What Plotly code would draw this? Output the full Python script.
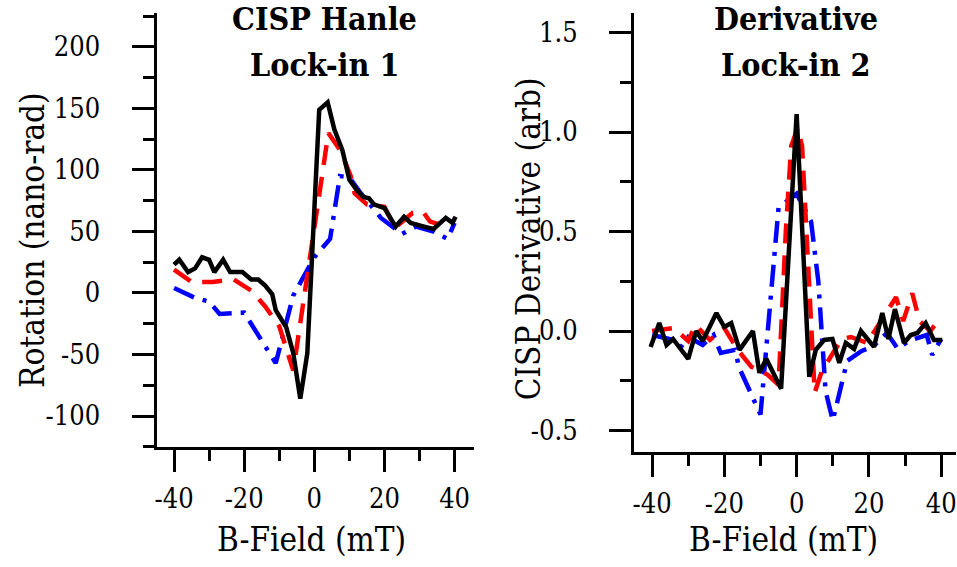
import plotly.graph_objects as go

W, H = 957, 567

# ---- CISP Hanle (lock-in 1): rotation in nano-rad vs B-field in mT ----
hanle_black_x = [-40, -38.5, -36, -34, -32, -30, -28.5, -26, -24, -20.5, -18, -16, -14, -12, -11,
                 -9.5, -8, -6, -4, -2, 1.4, 3.8, 5.7, 8, 10, 12, 14, 15.6, 17, 20, 21.3, 23.2,
                 25.6, 27.5, 31.3, 34, 37.5, 39.4, 40.3]
hanle_black_y = [23, 27, 17, 20, 29, 27, 17, 27, 17, 17, 11, 11, 6, -1, -14,
                 -21, -28, -49, -86, -49, 149, 155, 133, 116, 92, 84, 78, 77, 72, 69, 63, 54,
                 62, 57, 54, 52, 61, 57, 62]

hanle_red_x = [-40, -35, -29, -23, -18, -14, -10, -8, -6, 4, 7.6, 10.4, 11.5, 15, 20, 23, 28, 31, 33, 38]
hanle_red_y = [19, 9, 9, 11, 2, -11, -27, -44, -63, 130, 115, 95, 81, 72, 70, 53, 65, 66, 58, 54]

hanle_blue_x = [-40, -34, -30, -27, -20, -11, -6, 0, 4.5, 7.3, 10, 13, 19, 22, 25, 29, 34, 38, 40]
hanle_blue_y = [4, -4, -7, -17, -16, -57, -2, 29, 44, 95, 94, 82, 61, 54, 48, 54, 50, 44, 57]

# ---- Derivative (lock-in 2): CISP derivative in arb. units ----
deriv_black_x = [-40.4, -38, -36, -34.2, -30, -27.8, -26, -22.2, -20, -18.1, -15.8, -12.1, -10.3,
                 -8.4, -4.3, 0, 3.5, 5.3, 7.6, 9.9, 11.8, 13.6, 15.9, 17.8, 21.4, 23.7, 25.4,
                 27.2, 29.7, 31.6, 33.4, 35.7, 38, 40.3]
deriv_black_y = [-0.08, 0.04, -0.07, -0.04, -0.14, 0.0, -0.05, 0.09, 0.02, 0.04, -0.095, 0.0, -0.21,
                 -0.14, -0.29, 1.09, -0.23, -0.095, -0.045, -0.04, -0.16, -0.06, -0.09, 0.0, -0.08,
                 0.09, -0.04, 0.11, -0.06, -0.02, -0.01, 0.04, -0.045, -0.045]

deriv_red_x = [-40, -34, -30, -28, -24, -20, -16.5, -12.5, -8, -5, -3, -1.5, 0.3, 1.5, 5, 7,
               12.5, 15, 19.5, 23.5, 27.5, 29.5, 32, 34, 37, 40]
deriv_red_y = [0.0, 0.015, -0.05, 0.03, -0.045, 0.015, -0.09, -0.18, -0.22, -0.27, 0.5, 0.93,
               1.02, 0.93, -0.31, -0.2, -0.04, -0.03, -0.06, 0.055, 0.17, 0.05, 0.19, 0.05, 0.0, 0.07]

deriv_blue_x = [-40, -34, -32, -30, -26, -23, -21, -17, -16, -10, -5, 0, 4, 6, 8, 10, 14, 18,
                21, 25, 28, 31, 36, 37.5, 40]
deriv_blue_y = [-0.02, -0.045, -0.08, -0.03, -0.07, -0.02, -0.11, -0.095, -0.18, -0.42, 0.62,
                0.69, 0.55, 0.25, -0.3, -0.45, -0.15, -0.1, -0.08, -0.01, -0.09, -0.05, -0.02,
                -0.12, -0.04]

# ---- tick labels (plain hyphen minus signs) ----
x_tickvals = [-40, -20, 0, 20, 40]
x_ticktext = ["-40", "-20", "0", "20", "40"]
hanle_tickvals = [-100, -50, 0, 50, 100, 150, 200]
hanle_ticktext = ["-100", "-50", "0", "50", "100", "150", "200"]
deriv_tickvals = [-0.5, 0.0, 0.5, 1.0, 1.5]
deriv_ticktext = ["-0.5", "0.0", "0.5", "1.0", "1.5"]

FONT = "DejaVu Serif Condensed, DejaVu Serif, serif"
LW = 4.5
styles = {
    "black": dict(color="#000000", width=LW, dash="solid"),
    "red": dict(color="#ff0000", width=LW, dash="20px,12px"),
    "blue": dict(color="#0000ff", width=LW, dash="22px,9px,4px,9px"),
}

fig = go.Figure()

def add(x, y, style, xa, ya):
    fig.add_trace(go.Scatter(x=x, y=y, mode="lines", line=styles[style],
                             xaxis=xa, yaxis=ya, showlegend=False, hoverinfo="skip"))

add(hanle_blue_x, hanle_blue_y, "blue", "x", "y")
add(hanle_red_x, hanle_red_y, "red", "x", "y")
add(hanle_black_x, hanle_black_y, "black", "x", "y")
add(deriv_blue_x, deriv_blue_y, "blue", "x2", "y2")
add(deriv_red_x, deriv_red_y, "red", "x2", "y2")
add(deriv_black_x, deriv_black_y, "black", "x2", "y2")

def px_x(p):
    return p / W

def px_y(p):
    return 1 - p / H

axis_common = dict(
    showline=True, linecolor="black", linewidth=3, mirror=False,
    ticks="outside", ticklen=22, tickwidth=3, tickcolor="black",
    showgrid=False, zeroline=False, ticklabeloverflow="allow",
    tickfont=dict(family=FONT, size=27, color="black"),
    fixedrange=True,
)
minor_common = dict(ticks="outside", ticklen=11, tickwidth=3, tickcolor="black", tick0=0)

fig.update_layout(
    width=W, height=H,
    margin=dict(l=0, r=0, t=0, b=0),
    paper_bgcolor="white", plot_bgcolor="white",
    xaxis=dict(domain=[px_x(155), px_x(473)], range=[-45.0, 45.4], anchor="y",
               tickvals=x_tickvals, ticktext=x_ticktext, ticklabelstandoff=4,
               minor=dict(dtick=10, **minor_common), **axis_common),
    yaxis=dict(domain=[px_y(447), px_y(13)], range=[-125.2, 227.6], anchor="x",
               tickvals=hanle_tickvals, ticktext=hanle_ticktext, ticklabelstandoff=26,
               minor=dict(dtick=25, **minor_common), **axis_common),
    xaxis2=dict(domain=[px_x(634), 1.0], range=[-45.0, 44.1], anchor="y2",
                tickvals=x_tickvals, ticktext=x_ticktext, ticklabelstandoff=4,
                minor=dict(dtick=10, **minor_common), **axis_common),
    yaxis2=dict(domain=[px_y(452), px_y(13)], range=[-0.608, 1.598], anchor="x2",
                tickvals=deriv_tickvals, ticktext=deriv_ticktext, ticklabelstandoff=26,
                minor=dict(dtick=0.25, **minor_common), **axis_common),
)

def note(text, x, y, size, bold=False, angle=0):
    fig.add_annotation(
        text=f"<b>{text}</b>" if bold else text,
        x=px_x(x), y=px_y(y), xref="paper", yref="paper",
        xanchor="center", yanchor="middle", showarrow=False, textangle=angle,
        font=dict(family=FONT, size=size, color="black"),
    )

# panel titles
note("CISP Hanle", 324, 19, 32, bold=True)
note("Lock-in 1", 324, 65, 32, bold=True)
note("Derivative", 796, 19, 32, bold=True)
note("Lock-in 2", 796, 65, 32, bold=True)

# axis titles
note("B-Field (mT)", 310, 539, 33)
note("B-Field (mT)", 784, 539, 33)
note("Rotation (nano-rad)", 30, 240, 33, angle=-90)
note("CISP Derivative (arb)", 528, 239, 33, angle=-90)

fig.write_html("out.html")
